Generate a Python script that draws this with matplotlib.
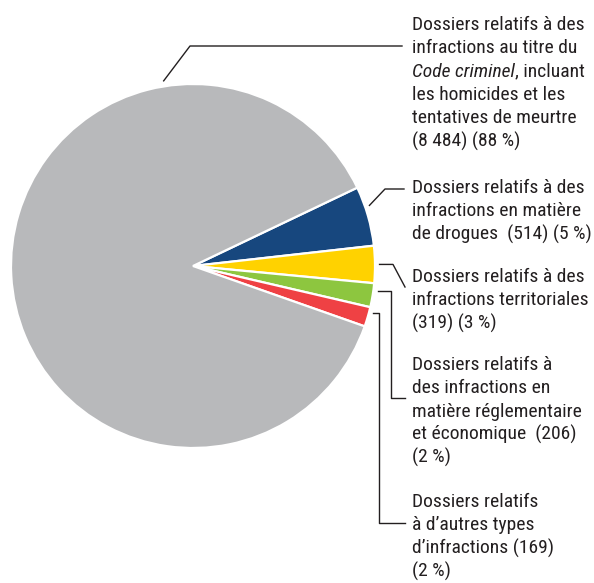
import numpy as np
import matplotlib
matplotlib.use("Agg")
import matplotlib.pyplot as plt
from matplotlib import font_manager

W, H = 594, 583

# data
labels = ["Drogues", "Territoriales", "Réglementaire et économique", "Autres", "Code criminel"]
counts = [514, 319, 206, 169, 8484]
colors = ["#17477e", "#ffd200", "#8dc63f", "#ef4144", "#b8b9bb"]
label_lines = [
    ["Dossiers relatifs à des", "infractions en matière", "de drogues  (514) (5 %)"],
    ["Dossiers relatifs à des", "infractions territoriales", "(319) (3 %)"],
    ["Dossiers relatifs à", "des infractions en", "matière réglementaire", "et économique  (206)", "(2 %)"],
    ["Dossiers relatifs", "à d’autres types", "d’infractions (169)", "(2 %)"],
    ["Dossiers relatifs à des", "infractions au titre du", None, "les homicides et les",
     "tentatives de meurtre", "(8 484) (88 %)"],
]

names = {f.name for f in font_manager.fontManager.ttflist}
fam = "DejaVu Sans"
for cand in ["Roboto Condensed", "Liberation Sans Narrow", "DejaVu Sans Condensed", "Liberation Sans"]:
    if cand in names:
        fam = cand
        break
plt.rcParams["font.family"] = [fam, "DejaVu Sans"]
FS = 14

fig = plt.figure(figsize=(W / 100, H / 100), dpi=100)
cx, cy, R = 193, 266, 182
ax = fig.add_axes([(cx - R) / W, (H - cy - R) / H, 2 * R / W, 2 * R / H])
wedges, _ = ax.pie(counts, colors=colors, startangle=25.5, counterclock=False,
                   radius=1, wedgeprops=dict(edgecolor="white", linewidth=1.6))
ax.set_xlim(-1, 1)
ax.set_ylim(-1, 1)
ax.set_aspect("equal")
ax.axis("off")

ov = fig.add_axes([0, 0, 1, 1], zorder=5)
ov.set_xlim(0, W)
ov.set_ylim(H, 0)
ov.axis("off")


def edge_pt(angle, r=1.025):
    a = np.deg2rad(angle)
    return cx + R * r * np.cos(a), cy - R * r * np.sin(a)


mids = [(w.theta1 + w.theta2) / 2 for w in wedges]
lk = dict(color="#231f20", lw=1.0)

# leader lines
x0, y0 = edge_pt(mids[0] + 3)
ov.plot([x0, 385, 404], [y0, 189, 189], **lk)
x0, y0 = edge_pt(mids[1])
ov.plot([x0, 393, 405], [y0, y0, 287], **lk)
x0, y0 = edge_pt(mids[2] + 1.5)
ov.plot([x0, 391, 391, 405], [y0, y0, 398, 398], **lk)
x0, y0 = edge_pt(mids[3] + 1.5)
ov.plot([x0, 379, 379, 405], [y0, y0, 523, 523], **lk)
x0, y0 = edge_pt(99, 1.03)
ov.plot([x0, 190, 402], [y0, 46, 46], **lk)

# text blocks
tx = 412
starts = [193, 282, 370, 507, 30]
step = 23.3
for lines, y in zip(label_lines, starts):
    for i, ln in enumerate(lines):
        yy = y + i * step
        if ln is None:
            t = ov.text(tx, yy, "Code criminel", fontsize=FS, style="italic",
                        va="baseline", ha="left", color="#231f20")
            fig.canvas.draw()
            bb = t.get_window_extent()
            x2 = ov.transData.inverted().transform((bb.x1, 0))[0]
            ov.text(x2, yy, ", incluant", fontsize=FS, va="baseline", ha="left", color="#231f20")
        else:
            ov.text(tx, yy, ln, fontsize=FS, va="baseline", ha="left", color="#231f20")

fig.savefig("out.png", dpi=100, facecolor="white")
